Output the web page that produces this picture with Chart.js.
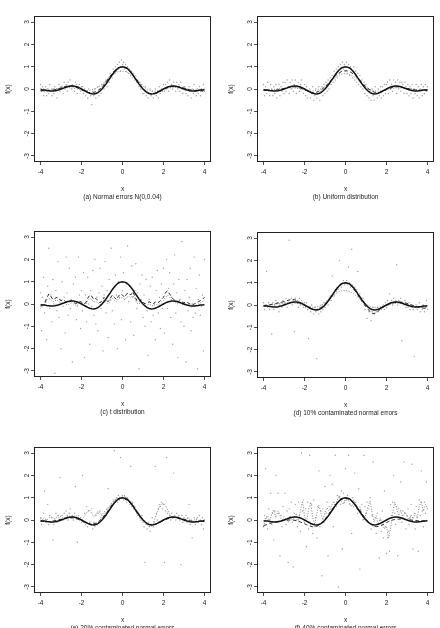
<!DOCTYPE html>
<html>
<head>
<meta charset="utf-8">
<title>Robust smoothing under six error distributions</title>
<script src="https://cdn.jsdelivr.net/npm/chart.js@4/dist/chart.umd.min.js"></script>
<style>
  html, body { margin: 0; padding: 0; width: 440px; height: 628px; overflow: hidden; background: #fff; }
  .panel { position: absolute; width: 220px; height: 205px; }
</style>
</head>
<body>
<div class="panel" style="left:0;top:0"><canvas id="pa" width="220" height="205"></canvas></div>
<div class="panel" style="left:223px;top:0"><canvas id="pb" width="220" height="205"></canvas></div>
<div class="panel" style="left:0;top:215px"><canvas id="pc" width="220" height="205"></canvas></div>
<div class="panel" style="left:223px;top:216px"><canvas id="pd" width="220" height="205"></canvas></div>
<div class="panel" style="left:0;top:431px"><canvas id="pe" width="220" height="205"></canvas></div>
<div class="panel" style="left:223px;top:431px"><canvas id="pf" width="220" height="205"></canvas></div>

<script>
// tick labels
var tickX = [-4, -2, 0, 2, 4];
var tickY = [-3, -2, -1, 0, 1, 2, 3];

// grid for the curves
var xs = [-4,-3.9,-3.8,-3.7,-3.6,-3.5,-3.4,-3.3,-3.2,-3.1,-3,-2.9,-2.8,-2.7,-2.6,-2.5,-2.4,-2.3,-2.2,-2.1,
  -2,-1.9,-1.8,-1.7,-1.6,-1.5,-1.4,-1.3,-1.2,-1.1,-1,-0.9,-0.8,-0.7,-0.6,-0.5,-0.4,-0.3,-0.2,-0.1,
  0,0.1,0.2,0.3,0.4,0.5,0.6,0.7,0.8,0.9,1,1.1,1.2,1.3,1.4,1.5,1.6,1.7,1.8,1.9,
  2,2.1,2.2,2.3,2.4,2.5,2.6,2.7,2.8,2.9,3,3.1,3.2,3.3,3.4,3.5,3.6,3.7,3.8,3.9,4];

// design points of the observations
var ptX = [-4,-3.95,-3.9,-3.85,-3.8,-3.75,-3.7,-3.65,-3.6,-3.55,-3.5,-3.45,-3.4,-3.35,-3.3,-3.25,-3.2,-3.15,-3.1,-3.05,-3,
  -2.95,-2.9,-2.85,-2.8,-2.75,-2.7,-2.65,-2.6,-2.55,-2.5,-2.45,-2.4,-2.35,-2.3,-2.25,-2.2,-2.15,-2.1,-2.05,-2,
  -1.95,-1.9,-1.85,-1.8,-1.75,-1.7,-1.65,-1.6,-1.55,-1.5,-1.45,-1.4,-1.35,-1.3,-1.25,-1.2,-1.15,-1.1,-1.05,-1,
  -0.95,-0.9,-0.85,-0.8,-0.75,-0.7,-0.65,-0.6,-0.55,-0.5,-0.45,-0.4,-0.35,-0.3,-0.25,-0.2,-0.15,-0.1,-0.05,0,
  0.05,0.1,0.15,0.2,0.25,0.3,0.35,0.4,0.45,0.5,0.55,0.6,0.65,0.7,0.75,0.8,0.85,0.9,0.95,1,
  1.05,1.1,1.15,1.2,1.25,1.3,1.35,1.4,1.45,1.5,1.55,1.6,1.65,1.7,1.75,1.8,1.85,1.9,1.95,2,
  2.05,2.1,2.15,2.2,2.25,2.3,2.35,2.4,2.45,2.5,2.55,2.6,2.65,2.7,2.75,2.8,2.85,2.9,2.95,3,
  3.05,3.1,3.15,3.2,3.25,3.3,3.35,3.4,3.45,3.5,3.55,3.6,3.65,3.7,3.75,3.8,3.85,3.9,3.95,4];

// true regression function (solid)
var trueF = [-0.03,-0.04,-0.05,-0.07,-0.08,-0.09,-0.09,-0.08,-0.06,-0.03,0,
  0.03,0.07,0.10,0.12,0.13,0.13,0.11,0.09,0.05,0,
  -0.05,-0.10,-0.15,-0.19,-0.21,-0.22,-0.20,-0.16,-0.09,0,
  0.11,0.23,0.37,0.50,0.64,0.76,0.86,0.94,0.98,1.00,
  0.98,0.94,0.86,0.76,0.64,0.50,0.37,0.23,0.11,0,
  -0.09,-0.16,-0.20,-0.22,-0.21,-0.19,-0.15,-0.10,-0.05,0,
  0.05,0.09,0.11,0.13,0.13,0.12,0.10,0.07,0.03,0,
  -0.03,-0.06,-0.08,-0.09,-0.09,-0.08,-0.07,-0.05,-0.04,-0.03];

// (a) normal errors
var ptsA = [0.2,-0.1,0.1,-0.3,-0.1,0.1,-0.3,0.0,-0.2,0.2,-0.1,-0.3,0.0,-0.2,0.1,-0.1,-0.4,0.0,0.2,-0.1,0.1,
  0.1,-0.2,0.3,0.0,0.2,-0.1,0.3,0.1,0.4,0.0,0.2,0.1,-0.1,0.3,0.2,-0.2,0.1,0.2,-0.1,0.1,
  0.1,-0.2,0.0,-0.3,-0.1,-0.4,0.0,-0.2,-0.3,-0.7,-0.1,-0.3,0.0,-0.4,-0.2,0.1,-0.3,0.0,-0.2,0.1,
  0.2,0.0,0.3,0.4,0.1,0.5,0.3,0.7,0.6,0.5,0.9,0.7,1.0,0.8,1.1,0.9,1.2,0.8,1.3,1.1,
  1.2,0.9,1.1,0.8,1.0,0.7,0.9,0.6,0.8,0.5,0.7,0.4,0.6,0.3,0.4,0.1,0.3,0.0,0.2,-0.2,
  -0.2,0.1,-0.3,-0.1,-0.4,-0.2,0.0,-0.3,-0.1,-0.4,-0.2,0.0,-0.3,-0.1,-0.4,0.1,-0.2,0.0,-0.1,0.2,
  -0.1,0.2,0.0,0.3,-0.1,0.4,0.1,0.2,0.0,0.3,0.1,-0.1,0.3,0.0,0.2,-0.1,0.3,0.0,-0.2,0.1,
  0.1,-0.2,0.0,-0.3,0.1,-0.1,-0.4,0.0,-0.2,0.2,-0.1,-0.3,0.0,-0.2,0.1,-0.3,0.0,-0.1,0.2,-0.1];
var dashA = [-0.08,-0.08,-0.08,-0.08,-0.07,-0.06,-0.05,-0.03,-0.01,0.02,0.05,
  0.08,0.11,0.13,0.14,0.14,0.12,0.09,0.05,0.01,-0.04,
  -0.08,-0.12,-0.15,-0.17,-0.17,-0.15,-0.12,-0.07,0.00,0.09,
  0.20,0.32,0.45,0.58,0.70,0.81,0.89,0.95,0.98,0.98,
  0.96,0.92,0.85,0.76,0.65,0.53,0.40,0.27,0.14,0.03,
  -0.07,-0.14,-0.19,-0.22,-0.22,-0.21,-0.18,-0.13,-0.08,-0.03,
  0.02,0.06,0.09,0.11,0.12,0.12,0.11,0.09,0.07,0.04,
  0.01,-0.02,-0.04,-0.06,-0.08,-0.09,-0.09,-0.09,-0.08,-0.07];
var dotA = [0.02,0.01,0.00,-0.01,-0.01,-0.01,0.00,0.01,0.02,0.03,0.04,
  0.05,0.06,0.06,0.06,0.05,0.04,0.02,0.00,-0.02,-0.04,
  -0.06,-0.07,-0.07,-0.06,-0.04,-0.01,0.03,0.08,0.14,0.21,
  0.29,0.37,0.46,0.54,0.62,0.69,0.74,0.78,0.80,0.80,
  0.79,0.76,0.71,0.65,0.57,0.49,0.40,0.31,0.22,0.14,
  0.06,0.00,-0.05,-0.08,-0.10,-0.10,-0.09,-0.07,-0.05,-0.02,
  0.01,0.03,0.05,0.06,0.07,0.07,0.06,0.05,0.04,0.02,
  0.01,-0.01,-0.02,-0.03,-0.03,-0.03,-0.03,-0.02,-0.01,0.00];

// (b) uniform errors
var ptsB = [0.2,-0.3,0.1,-0.2,0.3,-0.1,-0.3,0.2,0.0,-0.3,0.1,-0.2,0.2,-0.4,0.0,0.2,-0.3,0.1,-0.1,0.3,-0.2,
  0.3,-0.1,0.4,0.1,-0.2,0.3,0.0,0.4,-0.1,0.2,0.4,-0.2,0.1,0.3,-0.1,0.2,0.4,0.0,-0.2,0.2,
  -0.3,0.1,-0.4,-0.1,0.0,-0.4,-0.2,0.1,-0.5,-0.3,0.0,-0.4,-0.2,0.1,-0.5,-0.1,0.1,-0.3,0.2,-0.2,
  0.3,-0.1,0.4,0.0,0.5,0.2,0.6,0.3,0.8,0.4,0.9,0.5,1.0,0.7,1.1,0.8,1.2,0.9,1.1,0.8,
  1.2,0.7,1.1,0.6,1.0,0.9,0.5,1.0,0.4,0.8,0.3,0.7,0.2,0.6,0.1,0.4,0.0,0.3,-0.2,0.2,
  -0.3,0.0,-0.4,-0.1,-0.5,0.0,-0.3,-0.5,0.1,-0.2,-0.4,0.0,-0.3,0.1,-0.4,0.1,-0.3,0.2,-0.2,0.2,
  0.3,-0.2,0.4,0.0,0.2,-0.1,0.4,0.1,0.3,-0.2,0.4,0.0,0.3,-0.1,0.3,0.2,-0.2,0.3,0.1,-0.2,
  0.2,-0.3,0.1,-0.2,0.2,-0.4,0.0,-0.2,0.2,-0.3,0.1,-0.4,0.0,0.2,-0.3,0.1,-0.2,0.2,-0.1,0.1];
var dashB = [-0.06,-0.06,-0.07,-0.07,-0.07,-0.06,-0.05,-0.04,-0.02,0.00,0.02,
  0.05,0.07,0.09,0.10,0.10,0.09,0.07,0.04,0.01,-0.03,
  -0.07,-0.11,-0.14,-0.16,-0.16,-0.14,-0.10,-0.05,0.02,0.10,
  0.19,0.29,0.39,0.49,0.58,0.66,0.73,0.78,0.81,0.82,
  0.81,0.78,0.73,0.66,0.58,0.49,0.39,0.29,0.19,0.10,
  0.02,-0.05,-0.10,-0.14,-0.16,-0.16,-0.14,-0.11,-0.07,-0.03,
  0.01,0.04,0.07,0.09,0.10,0.10,0.09,0.07,0.05,0.03,
  0.01,-0.01,-0.03,-0.04,-0.05,-0.06,-0.06,-0.06,-0.06,-0.06];
var dotB = [-0.03,-0.03,-0.03,-0.03,-0.02,-0.02,-0.01,0.00,0.01,0.02,0.03,
  0.04,0.05,0.05,0.05,0.05,0.04,0.02,0.00,-0.02,-0.04,
  -0.06,-0.08,-0.09,-0.09,-0.08,-0.06,-0.03,0.01,0.06,0.12,
  0.19,0.27,0.35,0.43,0.50,0.57,0.62,0.66,0.68,0.68,
  0.67,0.65,0.61,0.56,0.49,0.42,0.34,0.26,0.18,0.11,
  0.04,-0.01,-0.05,-0.08,-0.09,-0.09,-0.08,-0.07,-0.05,-0.03,
  -0.01,0.01,0.03,0.04,0.05,0.05,0.05,0.04,0.03,0.02,
  0.01,0.00,-0.01,-0.02,-0.03,-0.03,-0.03,-0.03,-0.03,-0.03];

// (c) t errors
var ptsC = [0.5,-1.2,0.3,1.2,-0.4,0.1,-1.6,0.8,2.5,-0.2,0.4,-0.8,1.1,0.0,-3.1,0.6,-0.3,1.9,-0.6,0.2,-2.0,
  1.0,-0.1,0.3,-1.3,2.1,0.5,-0.5,1.6,-0.2,0.2,-2.6,0.9,0.1,1.2,-0.7,-0.1,2.1,0.4,-1.1,0.6,
  -0.3,1.4,-2.4,0.4,-0.8,1.2,0.0,-1.8,0.6,-0.1,1.5,-0.5,2.0,-0.9,0.3,-1.2,0.5,1.6,-0.2,0.8,
  -2.1,0.4,1.9,-0.4,0.6,-1.5,1.1,0.2,2.5,-0.3,0.7,-0.9,1.3,0.4,-2.0,1.0,0.3,2.1,-0.7,0.6,
  1.4,0.2,-1.6,0.9,2.6,0.1,0.8,-0.8,1.7,0.3,-1.4,0.6,1.8,-0.2,0.5,-2.9,0.9,0.1,1.3,-0.6,
  0.4,-1.0,1.1,-0.3,-2.3,0.2,0.8,-0.8,1.2,-0.5,0.0,-1.6,0.6,1.5,-0.4,0.3,-1.1,0.9,-0.2,1.6,
  -1.3,0.5,2.0,-0.2,0.7,1.4,-0.6,0.3,-1.8,0.9,2.2,-0.4,0.5,-2.4,1.1,0.2,-0.8,2.8,0.0,-1.0,
  0.6,-2.6,1.1,-0.3,0.3,1.6,-1.2,0.0,-0.6,2.1,-0.4,0.7,-2.9,0.2,1.3,-0.5,-0.1,0.4,-2.1,2.0];
var dashC = [-0.10,-0.05,0.05,0.25,0.45,0.35,0.20,0.25,0.30,0.22,0.15,
  0.20,0.12,0.05,0.10,0.15,0.08,0.02,0.05,0.12,0.08,
  0.00,0.05,0.25,0.40,0.35,0.20,0.25,0.15,0.05,0.15,
  0.30,0.20,0.10,0.25,0.40,0.30,0.20,0.35,0.45,0.40,
  0.30,0.45,0.50,0.40,0.55,0.35,0.15,0.10,0.20,0.10,
  0.00,0.05,0.10,0.05,0.00,0.10,0.05,0.10,0.20,0.30,
  0.50,0.60,0.45,0.30,0.20,0.15,0.10,0.15,0.10,0.05,
  0.10,0.05,0.00,-0.05,0.00,0.05,0.10,0.15,0.20,0.30];
var dotC = [-0.20,-0.10,0.00,0.15,0.25,0.20,0.10,0.15,0.18,0.10,0.05,
  0.08,0.02,-0.05,0.00,0.05,0.00,-0.05,-0.02,0.05,0.00,
  -0.08,-0.02,0.15,0.25,0.20,0.08,0.12,0.05,-0.05,0.05,
  0.18,0.10,0.00,0.12,0.25,0.18,0.10,0.22,0.30,0.28,
  0.20,0.30,0.35,0.28,0.38,0.22,0.05,0.00,0.08,0.00,
  -0.08,-0.05,0.00,-0.05,-0.10,-0.02,-0.05,0.00,0.08,0.15,
  0.30,0.40,0.30,0.18,0.10,0.05,0.02,0.05,0.00,-0.05,
  0.00,-0.05,-0.10,-0.15,-0.10,-0.05,0.00,0.05,0.10,0.20];

// (d) 10% contaminated normal errors
var ptsD = [0.1,-0.2,0.0,1.5,-0.1,0.1,-0.2,0.0,-1.3,0.1,-0.2,0.0,0.2,-0.1,0.1,-0.3,0.0,0.1,-0.1,0.2,0.0,
  0.1,0.3,-0.1,0.2,2.9,0.1,0.3,0.0,0.2,-1.2,0.3,0.1,0.2,-0.1,0.3,0.0,0.2,0.1,-0.1,0.1,
  -0.1,0.1,-0.2,-1.5,-0.1,-0.3,0.0,-0.2,-0.4,-0.1,-0.3,-2.4,-0.2,-0.4,-0.1,-0.3,0.0,-0.2,0.1,-0.1,
  0.1,0.2,0.0,0.3,0.4,0.2,1.3,0.5,0.4,0.7,0.6,0.8,0.7,2.0,0.9,0.8,1.0,1.1,0.9,1.0,
  1.1,0.9,1.7,1.0,0.8,2.5,0.9,0.7,0.8,0.6,0.7,1.5,0.4,0.5,0.3,0.2,0.3,0.1,-0.2,0.0,
  -0.6,-0.1,-0.3,-0.2,-0.7,-0.3,-0.1,-0.4,-0.2,-0.3,-0.1,-0.3,-0.2,-0.1,-0.2,-0.1,0.0,-0.2,0.1,-0.1,
  0.2,0.0,0.5,0.1,0.2,0.0,0.3,0.1,0.2,1.8,0.0,0.2,0.1,0.3,-1.6,0.1,0.0,0.2,-0.1,0.0,
  -0.1,0.1,-0.2,0.0,-0.1,-0.2,-2.3,-0.1,0.0,-0.2,-0.1,0.1,-0.3,-0.1,-0.2,0.0,-0.3,-0.1,0.2,-0.2];
var dashD = [-0.05,-0.03,-0.01,0.01,0.03,0.05,0.07,0.09,0.11,0.13,0.15,
  0.18,0.21,0.24,0.25,0.24,0.21,0.16,0.10,0.04,-0.02,
  -0.08,-0.13,-0.17,-0.20,-0.21,-0.20,-0.17,-0.12,-0.05,0.04,
  0.14,0.26,0.39,0.52,0.65,0.77,0.87,0.94,0.98,0.99,
  0.97,0.92,0.84,0.73,0.60,0.46,0.31,0.17,0.04,-0.08,
  -0.19,-0.30,-0.37,-0.38,-0.34,-0.27,-0.19,-0.12,-0.06,-0.01,
  0.03,0.06,0.09,0.11,0.12,0.13,0.13,0.12,0.10,0.07,
  0.04,0.01,-0.02,-0.05,-0.08,-0.10,-0.12,-0.14,-0.15,-0.16];
var dotD = [-0.02,-0.01,0.00,0.01,0.02,0.03,0.04,0.05,0.06,0.07,0.08,
  0.09,0.10,0.10,0.10,0.09,0.08,0.06,0.04,0.01,-0.02,
  -0.05,-0.07,-0.09,-0.10,-0.10,-0.08,-0.05,-0.01,0.04,0.10,
  0.17,0.25,0.33,0.41,0.48,0.55,0.60,0.63,0.65,0.65,
  0.64,0.61,0.56,0.50,0.43,0.35,0.27,0.19,0.11,0.04,
  -0.02,-0.07,-0.10,-0.12,-0.12,-0.11,-0.09,-0.07,-0.04,-0.01,
  0.02,0.04,0.06,0.07,0.08,0.08,0.07,0.06,0.04,0.02,
  0.00,-0.02,-0.04,-0.06,-0.07,-0.08,-0.09,-0.09,-0.10,-0.10];

// (e) 20% contaminated normal errors
var ptsE = [0.1,-0.2,0.0,0.3,1.3,-0.1,0.0,0.7,-0.2,0.2,-0.1,0.1,-0.9,-0.2,0.0,0.3,-0.1,0.2,0.1,1.9,0.0,
  0.2,0.0,0.3,0.1,0.4,0.2,0.0,0.3,0.5,0.1,0.2,0.0,0.3,1.5,0.1,-1.0,0.2,0.0,0.1,-0.1,
  2.0,-0.1,0.3,-0.2,0.6,-0.3,0.4,-0.1,-0.2,0.5,-0.4,-0.1,-0.3,0.2,-0.2,0.3,-0.1,0.4,0.1,0.2,
  0.1,0.2,0.3,0.2,0.5,1.4,0.5,0.6,0.7,0.6,0.9,3.1,0.9,1.0,0.8,1.1,0.9,2.8,1.0,1.1,
  0.9,1.1,1.0,0.8,1.0,0.9,0.7,2.4,0.6,0.8,0.5,0.6,0.4,0.3,0.2,0.3,0.1,0.0,0.2,-0.1,
  -0.3,-1.9,-0.2,-0.4,-0.1,-0.3,-0.5,-0.2,0.1,-0.3,-0.1,2.4,0.3,0.0,0.5,0.7,0.6,0.8,0.5,0.7,
  -1.9,0.4,2.8,0.3,0.1,0.2,0.0,0.3,0.1,2.1,0.2,0.0,0.3,0.1,0.2,0.0,-2.0,0.2,-0.1,0.1,
  0.0,0.2,-0.1,0.1,0.7,-0.2,0.0,-0.8,-0.1,0.1,-0.2,0.0,0.1,-0.1,0.2,0.0,-0.2,0.1,-0.4,0.0];
var dashE = [-0.06,-0.06,-0.07,-0.07,-0.07,-0.06,-0.05,-0.03,-0.01,0.01,0.03,
  0.05,0.07,0.09,0.10,0.10,0.09,0.07,0.04,0.01,-0.03,
  -0.07,-0.11,-0.15,-0.17,-0.18,-0.17,-0.14,-0.09,-0.02,0.07,
  0.18,0.30,0.43,0.56,0.68,0.79,0.88,0.94,0.97,0.97,
  0.95,0.90,0.83,0.73,0.62,0.49,0.36,0.23,0.11,0.00,
  -0.09,-0.15,-0.19,-0.21,-0.21,-0.19,-0.16,-0.12,-0.07,-0.03,
  0.01,0.05,0.08,0.10,0.11,0.11,0.10,0.08,0.06,0.03,
  0.01,-0.02,-0.04,-0.05,-0.06,-0.07,-0.07,-0.07,-0.07,-0.07];
var dotE = [0.05,0.10,0.05,0.00,0.08,0.15,0.10,0.05,0.12,0.20,0.15,
  0.08,0.10,0.15,0.18,0.12,0.15,0.22,0.15,0.05,0.00,
  0.10,0.25,0.40,0.45,0.30,0.15,0.25,0.40,0.30,0.25,
  0.35,0.45,0.55,0.65,0.78,0.88,0.95,1.00,1.02,1.03,
  1.05,1.00,0.92,0.85,0.72,0.58,0.42,0.28,0.15,0.05,
  -0.08,-0.20,-0.28,-0.30,-0.15,0.10,0.35,0.60,0.72,0.75,
  0.65,0.45,0.25,0.15,0.10,0.12,0.15,0.10,0.05,0.00,
  0.05,0.08,0.02,-0.03,0.00,0.05,0.00,-0.05,-0.03,0.00];

// (f) 40% contaminated normal errors
var ptsF = [-0.3,0.2,2.3,0.1,-0.4,0.5,0.0,1.2,-0.2,0.3,-0.9,0.4,2.0,-0.1,1.2,0.3,-1.6,0.2,-0.3,0.6,0.0,
  1.2,-0.2,0.4,-1.9,0.5,0.1,0.8,-0.1,-2.1,0.3,0.7,0.0,-0.3,0.8,0.2,-0.5,3.0,0.4,0.9,-0.1,
  0.5,-1.2,0.8,-0.4,2.9,-0.2,0.7,-0.6,0.9,-0.3,0.1,-0.8,0.6,2.2,-0.3,0.4,-2.5,0.5,-0.1,1.5,
  0.3,0.8,-1.6,0.6,2.0,0.5,1.6,-0.3,0.8,2.9,0.6,1.1,-3.0,1.0,0.7,1.3,-1.3,1.2,0.8,2.3,
  0.9,1.1,2.9,0.7,0.9,-0.6,1.0,0.6,2.1,0.8,0.5,0.3,1.4,-2.2,0.4,0.7,0.0,2.9,0.6,0.3,
  0.8,-0.1,0.5,1.0,-0.4,0.2,2.6,-0.3,0.1,-0.6,0.3,-0.2,-1.7,0.0,-0.5,0.4,-0.8,1.3,-0.3,-1.5,
  -0.8,-0.5,-1.4,0.7,0.2,0.8,2.0,0.3,-0.2,0.6,-1.6,0.5,0.1,1.7,-0.1,0.4,2.6,0.3,-0.4,0.2,
  0.5,-0.2,0.1,0.7,2.5,-1.3,0.3,-0.4,0.6,0.1,-1.4,0.9,0.2,2.2,0.4,-0.3,0.8,0.3,1.7,0.5];
var dashF = [-0.25,-0.22,-0.19,-0.16,-0.13,-0.10,-0.08,-0.06,-0.04,-0.03,-0.02,
  -0.01,0.00,0.00,0.00,-0.01,-0.03,-0.06,-0.09,-0.13,-0.17,
  -0.21,-0.25,-0.28,-0.30,-0.30,-0.28,-0.23,-0.16,-0.07,0.04,
  0.16,0.29,0.42,0.55,0.67,0.78,0.86,0.92,0.95,0.96,
  0.95,0.91,0.85,0.77,0.67,0.55,0.42,0.29,0.16,0.04,
  -0.07,-0.16,-0.23,-0.28,-0.30,-0.29,-0.26,-0.22,-0.17,-0.12,
  -0.07,-0.03,0.00,0.02,0.03,0.04,0.04,0.04,0.03,0.02,
  0.01,0.00,-0.01,-0.02,-0.03,-0.04,-0.04,-0.05,-0.05,-0.05];
var dotF = [-0.30,0.10,0.20,-0.10,0.30,0.45,0.10,0.40,0.20,-0.05,0.15,
  0.05,-0.10,0.20,0.00,0.10,0.30,-0.05,0.40,0.85,0.20,
  -0.10,0.50,0.80,0.10,-0.20,0.30,0.65,0.30,0.00,0.35,
  0.55,0.40,0.60,0.80,0.65,0.90,1.10,0.85,0.70,0.95,
  1.00,0.75,0.60,0.90,0.70,0.45,0.60,0.30,0.00,0.25,
  0.60,0.85,0.30,-0.10,0.20,-0.20,0.10,-0.15,-0.40,-0.30,
  -0.80,-0.40,0.30,0.80,0.50,0.20,0.45,0.10,0.35,0.20,
  -0.05,0.25,0.05,0.30,0.10,0.60,0.85,0.40,0.70,0.50];

var captions = {
  pa: '(a) Normal errors N(0,0.04)',
  pb: '(b) Uniform distribution',
  pc: '(c) t distribution',
  pd: '(d) 10% contaminated normal errors',
  pe: '(e) 20% contaminated normal errors',
  pf: '(f) 40% contaminated normal errors'
};

var FONT = { family: "'Liberation Sans', Arial, sans-serif", size: 6.5, lineHeight: 1.25 };

// frame round the plotting region, as in base R graphics
var boxPlugin = {
  id: 'box',
  afterDraw: function(chart) {
    var a = chart.chartArea, ctx = chart.ctx;
    ctx.save();
    ctx.strokeStyle = '#222';
    ctx.lineWidth = 1;
    ctx.strokeRect(Math.round(a.left) + 0.5, Math.round(a.top) + 0.5,
      Math.round(a.right - a.left) - 1, Math.round(a.bottom - a.top) - 1);
    ctx.restore();
  }
};

function toXY(xv, yv) {
  var out = [];
  for (var i = 0; i < xv.length; i++) {
    if (yv[i] !== undefined) out.push({ x: xv[i], y: yv[i] });
  }
  return out;
}

function makePanel(id, pts, dash, dot) {
  new Chart(document.getElementById(id), {
    type: 'scatter',
    data: {
      datasets: [
        { type: 'line', data: toXY(xs, trueF), borderColor: '#111', borderWidth: 1.5,
          pointRadius: 0, tension: 0, fill: false },
        { type: 'line', data: toXY(xs, dash), borderColor: '#2a2a2a', borderWidth: 1,
          borderDash: [3.5, 2.5], pointRadius: 0, tension: 0, fill: false },
        { type: 'line', data: toXY(xs, dot), borderColor: '#808080', borderWidth: 1,
          borderDash: [1, 1.6], pointRadius: 0, tension: 0, fill: false },
        { data: toXY(ptX, pts), pointRadius: 0.7, pointBackgroundColor: '#a0a0a0',
          pointBorderWidth: 0, showLine: false }
      ]
    },
    options: {
      responsive: false,
      animation: false,
      devicePixelRatio: 1,
      layout: { padding: { top: 16, right: 9, left: 0, bottom: 0 } },
      plugins: { legend: { display: false }, tooltip: { enabled: false }, title: { display: false } },
      scales: {
        x: {
          type: 'linear', min: -4.32, max: 4.32,
          afterBuildTicks: function(s) { s.ticks = tickX.map(function(v) { return { value: v }; }); },
          afterFit: function(s) { s.height = 43; },
          grid: { drawOnChartArea: false, drawTicks: true, tickLength: 3, color: '#222', lineWidth: 0.8 },
          border: { display: false },
          ticks: { font: FONT, color: '#222', padding: 3, autoSkip: false, maxRotation: 0 },
          title: { display: true, text: ['x', captions[id]], font: FONT, color: '#222',
            padding: { top: 0, bottom: 4 } }
        },
        y: {
          type: 'linear', min: -3.27, max: 3.27,
          afterBuildTicks: function(s) { s.ticks = tickY.map(function(v) { return { value: v }; }); },
          afterFit: function(s) { s.width = 34; },
          grid: { drawOnChartArea: false, drawTicks: true, tickLength: 3, color: '#222', lineWidth: 0.8 },
          border: { display: false },
          ticks: { font: FONT, color: '#222', padding: 1, autoSkip: false,
            minRotation: 90, maxRotation: 90, crossAlign: 'center' },
          title: { display: true, text: 'f(x)', font: FONT, color: '#222', padding: { top: 4, bottom: 0 } }
        }
      }
    },
    plugins: [boxPlugin]
  });
}

makePanel('pa', ptsA, dashA, dotA);
makePanel('pb', ptsB, dashB, dotB);
makePanel('pc', ptsC, dashC, dotC);
makePanel('pd', ptsD, dashD, dotD);
makePanel('pe', ptsE, dashE, dotE);
makePanel('pf', ptsF, dashF, dotF);
</script>
</body>
</html>
